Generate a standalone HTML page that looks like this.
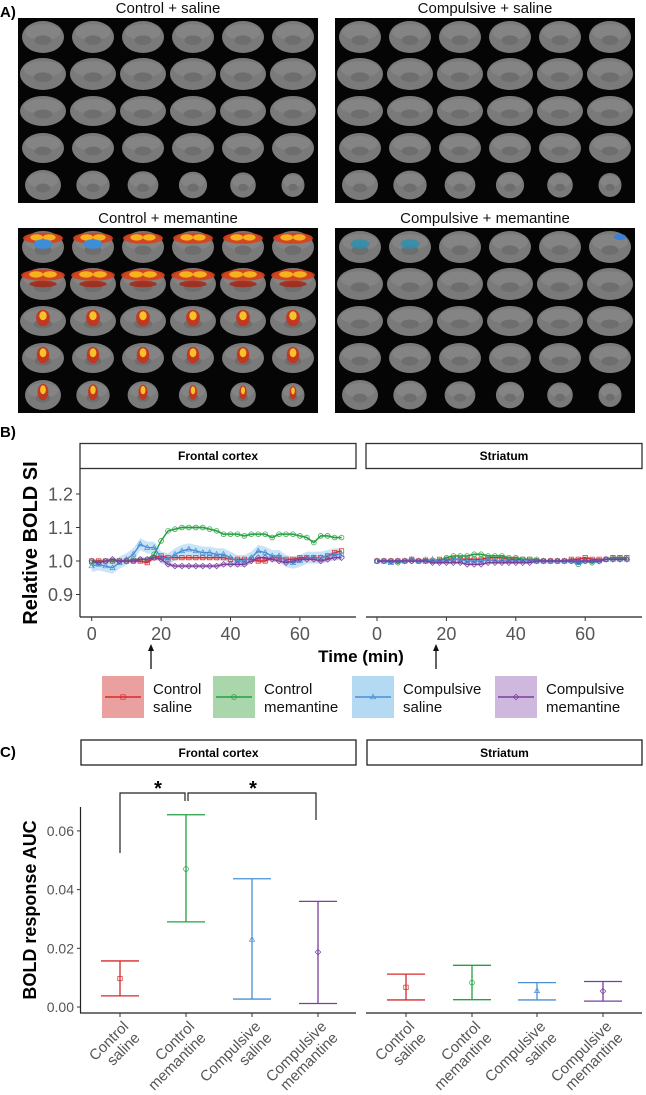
<!DOCTYPE html>
<html><head><meta charset="utf-8"><title>BOLD figure</title>
<style>
html,body{margin:0;padding:0;background:#fff;}
svg{display:block;font-family:"Liberation Sans",sans-serif;}
</style></head>
<body>
<svg id="fig" width="646" height="1095" viewBox="0 0 646 1095" xmlns="http://www.w3.org/2000/svg"></svg>
<script>
// ---------- Panel B data ----------
const times = [0,2,4,6,8,10,12,14,16,18,20,22,24,26,28,30,32,34,36,38,40,42,44,46,48,50,52,54,56,58,60,62,64,66,68,70,72];
const yTicksB = [0.9,1.0,1.1,1.2];
const yTickLabelsB = ["0.9","1.0","1.1","1.2"];
const xTicksB = [0,20,40,60];
const fcControlSaline = [1.0,1.0,1.0,1.0,1.0,1.0,1.0,1.0,0.995,1.01,1.015,1.01,1.01,1.01,1.01,1.01,1.01,1.01,1.01,1.01,1.005,1.005,1.005,1.005,1.0,1.0,1.01,1.01,1.005,1.005,1.01,1.01,1.01,1.01,1.015,1.025,1.03];
const fcControlMemantine = [0.995,0.995,1.0,1.0,1.0,1.0,1.005,1.005,1.005,1.02,1.06,1.09,1.095,1.1,1.1,1.1,1.1,1.095,1.09,1.08,1.08,1.08,1.075,1.08,1.08,1.08,1.07,1.08,1.08,1.08,1.075,1.07,1.055,1.075,1.075,1.07,1.07];
const fcCompulsiveSaline = [0.985,0.99,0.985,0.98,0.995,1.005,1.02,1.05,1.04,1.04,1.01,1.005,1.02,1.03,1.035,1.03,1.025,1.025,1.02,1.02,1.01,1.0,1.0,1.01,1.03,1.025,1.015,1.015,1.0,0.995,1.0,1.01,1.01,1.01,1.015,1.02,1.02];
const fcCompulsiveMemantine = [1.0,0.995,1.0,1.005,1.0,1.0,1.0,1.005,1.005,1.01,1.005,0.99,0.985,0.985,0.985,0.985,0.985,0.985,0.985,0.99,0.99,0.99,0.99,1.0,1.01,1.01,1.005,1.0,0.995,1.0,1.005,1.005,1.005,1.0,1.005,1.01,1.01];
const stControlSaline = [1.0,1.0,1.0,1.0,1.0,1.005,1.0,1.0,1.0,1.005,1.005,1.005,1.005,1.005,1.005,1.005,1.01,1.01,1.01,1.005,1.005,1.005,1.005,1.0,1.0,1.0,1.0,1.0,1.005,1.005,1.01,1.005,1.005,1.005,1.01,1.01,1.01];
const stControlMemantine = [1.0,1.0,1.0,0.995,1.0,1.0,1.0,1.005,1.0,1.0,1.01,1.015,1.015,1.015,1.02,1.02,1.015,1.015,1.015,1.01,1.01,1.005,1.005,1.005,1.0,1.0,1.0,1.0,1.0,0.99,1.0,0.995,1.0,1.005,1.01,1.01,1.01];
const stCompulsiveSaline = [1.0,1.0,0.995,1.0,1.0,1.005,1.0,1.0,1.005,1.0,1.0,1.005,1.005,1.0,1.0,1.0,1.005,1.0,1.0,1.0,1.0,1.0,1.0,1.0,1.0,1.0,1.0,1.0,1.0,0.995,1.0,1.0,1.0,1.005,1.005,1.005,1.005];
const stCompulsiveMemantine = [1.0,1.0,1.0,1.0,1.0,1.0,1.0,1.0,0.995,0.995,0.995,0.995,0.995,0.99,0.99,0.99,0.995,0.995,0.995,0.995,0.995,0.995,0.995,1.0,1.0,1.0,1.0,1.0,1.0,1.0,1.0,1.0,1.0,1.005,1.005,1.005,1.005];
// ---------- Panel C data ----------
const groups = ["Control saline","Control memantine","Compulsive saline","Compulsive memantine"];
const fcMean = [0.0097,0.047,0.023,0.0187];
const fcLow = [0.0038,0.029,0.0027,0.0012];
const fcHigh = [0.0157,0.0655,0.0437,0.036];
const stMean = [0.0067,0.0083,0.0055,0.0054];
const stLow = [0.0024,0.0025,0.0024,0.0020];
const stHigh = [0.0112,0.0142,0.0083,0.0087];
const yTicksC = [0.00,0.02,0.04,0.06];
const yTickLabelsC = ["0.00","0.02","0.04","0.06"];

const NS="http://www.w3.org/2000/svg";
const svg=document.getElementById('fig');
function mk(tag,attrs,parent){const e=document.createElementNS(NS,tag);for(const k in attrs)e.setAttribute(k,attrs[k]);(parent||svg).appendChild(e);return e;}
function txt(s,attrs,parent){const e=mk('text',attrs,parent);e.textContent=s;return e;}
const colors=["#d62a2a","#23a040","#4a8fd6","#7a3f9e"];
const fills=["#eba0a0","#a9d6ab","#b3d9f3","#cfb8de"];
const shapes=["square","circle","triangle","diamond"];

// ---------- Panel A ----------
let el;
el=txt("A)",{x:0,y:17,'font-size':15,'font-weight':'bold'});


const blocks=[
 {x:18,y:18,title:"Control + saline",ov:0,name:"control-saline-images"},
 {x:335,y:18,title:"Compulsive + saline",ov:0,name:"compulsive-saline-images"},
 {x:18,y:228,title:"Control + memantine",ov:1,name:"control-memantine-images"},
 {x:335,y:228,title:"Compulsive + memantine",ov:2,name:"compulsive-memantine-images"}];
const rowSize=[[21,16],[23,16],[23,15],[21,15],[18,15]];
blocks.forEach(b=>{
  const g=mk('g',{});
  
  
  const t=txt(b.title,{x:b.x+150,y:b.y-5,'font-size':15,'text-anchor':'middle',fill:'#111'},g);
  
  
  mk('rect',{x:b.x,y:b.y,width:300,height:185,fill:'#050505'},g);
  for(let r=0;r<5;r++)for(let c=0;c<6;c++){
    const cx=b.x+25+c*50, cy=b.y+19+r*37;
    let rx=rowSize[r][0], ry=rowSize[r][1];
    if(r===4){rx-=c*1.3;ry-=c*0.6;}
    mk('ellipse',{cx:cx,cy:cy,rx:rx,ry:ry,fill:'#7a7a7a'},g);
    mk('ellipse',{cx:cx,cy:cy-ry*0.3,rx:rx*0.85,ry:ry*0.5,fill:'#848484'},g);
    mk('ellipse',{cx:cx,cy:cy+ry*0.2,rx:rx*0.4,ry:ry*0.3,fill:'#6e6e6e'},g);
    if(b.ov===1){
      if(r<2){
        mk('ellipse',{cx:cx,cy:cy-ry*0.55,rx:rx*0.95,ry:ry*0.35,fill:'#d8401a',opacity:0.9},g);
        mk('ellipse',{cx:cx-rx*0.3,cy:cy-ry*0.6,rx:rx*0.3,ry:ry*0.2,fill:'#f6b21e'},g);
        mk('ellipse',{cx:cx+rx*0.3,cy:cy-ry*0.6,rx:rx*0.3,ry:ry*0.2,fill:'#f6b21e'},g);
        if(r===1)mk('ellipse',{cx:cx,cy:cy,rx:rx*0.6,ry:ry*0.2,fill:'#a82010',opacity:0.8},g);
        if(r===0&&c<2)mk('ellipse',{cx:cx,cy:cy-3,rx:rx*0.45,ry:ry*0.3,fill:'#3d8ed8'},g);
      } else {
        mk('ellipse',{cx:cx,cy:cy-ry*0.2,rx:rx*0.3,ry:ry*0.55,fill:'#c83216',opacity:0.9},g);
        mk('ellipse',{cx:cx,cy:cy-ry*0.35,rx:rx*0.16,ry:ry*0.3,fill:'#f7c12a'},g);
      }
    } else if(b.ov===2){
      if(r===0&&c<2)mk('ellipse',{cx:cx,cy:cy-3,rx:rx*0.45,ry:ry*0.3,fill:'#2e8fb0',opacity:0.85},g);
      if(r===0&&c===5)mk('ellipse',{cx:cx+10,cy:cy-10,rx:6,ry:3,fill:'#3a7fd8'},g);
    }
  }
});

// ---------- Panel B ----------
el=txt("B)",{x:0,y:437,'font-size':15,'font-weight':'bold'});


const yB=v=>561-(v-1)*335;
const panelsB=[{x0:80,x1:356,orig:91.7,title:"Frontal cortex",series:[fcControlSaline,fcControlMemantine,fcCompulsiveSaline,fcCompulsiveMemantine],band:[0.006,0.004,0.018,0.006],name:'frontal'},
               {x0:366,x1:642,orig:377,title:"Striatum",series:[stControlSaline,stControlMemantine,stCompulsiveSaline,stCompulsiveMemantine],band:[0.004,0.004,0.005,0.004],name:'striatum'}];
function marker(shape,x,y,col,parent){
  let m;
  if(shape==="square")m=mk('rect',{x:x-2.2,y:y-2.2,width:4.4,height:4.4,fill:'none',stroke:col,'stroke-width':0.7},parent);
  else if(shape==="circle")m=mk('circle',{cx:x,cy:y,r:2.4,fill:'none',stroke:col,'stroke-width':0.7},parent);
  else if(shape==="triangle")m=mk('polygon',{points:`${x},${y-2.8} ${x+2.6},${y+1.8} ${x-2.6},${y+1.8}`,fill:'none',stroke:col,'stroke-width':0.7},parent);
  else m=mk('polygon',{points:`${x},${y-2.8} ${x+2.8},${y} ${x},${y+2.8} ${x-2.8},${y}`,fill:'none',stroke:col,'stroke-width':0.7},parent);
  return m;
}
panelsB.forEach((p,pi)=>{
  const xB=t=>p.orig+t*3.47;
  const g=mk('g',{});
  
  
  const strip=mk('rect',{x:p.x0,y:443.5,width:p.x1-p.x0,height:25,fill:'#fff',stroke:'#333','stroke-width':1.3},g);
  
  
  txt(p.title,{x:(p.x0+p.x1)/2,y:460,'font-size':12,'font-weight':'bold','text-anchor':'middle'},g);
  mk('line',{x1:p.x0,y1:617,x2:p.x1,y2:617,stroke:'#222','stroke-width':1.2},g);
  xTicksB.forEach(t=>{
    mk('line',{x1:xB(t),y1:617,x2:xB(t),y2:621,stroke:'#333'},g);
    const tl=txt(String(t),{x:xB(t),y:640,'font-size':18,'text-anchor':'middle',fill:'#555'},g);
    
    
  });
  if(pi===0){
    mk('line',{x1:80,y1:469,x2:80,y2:617,stroke:'#222','stroke-width':1.2},g);
    yTicksB.forEach((v,i)=>{
      mk('line',{x1:76,y1:yB(v),x2:80,y2:yB(v),stroke:'#333'},g);
      const tl=txt(yTickLabelsB[i],{x:73,y:yB(v)+6.5,'font-size':18,'text-anchor':'end',fill:'#555'},g);
      
      
    });
  }
  p.series.forEach((s,si)=>{
    const bw=p.band[si];
    let top=s.map((v,i)=>`${xB(times[i])},${yB(v+bw)}`);
    let bot=s.map((v,i)=>`${xB(times[i])},${yB(v-bw)}`).reverse();
    const band=mk('polygon',{points:top.concat(bot).join(' '),fill:fills[si],opacity:0.7},g);
    
    
  });
  p.series.forEach((s,si)=>{
    const line=mk('polyline',{points:s.map((v,i)=>`${xB(times[i])},${yB(v)}`).join(' '),fill:'none',stroke:colors[si],'stroke-width':1.4},g);
    
    
    s.forEach((v,i)=>{marker(shapes[si],xB(times[i]),yB(v),colors[si],g);});
  });
});
el=txt("Relative BOLD SI",{x:0,y:0,'font-size':20,'font-weight':'bold','text-anchor':'middle',transform:'translate(37,543) rotate(-90)'});


el=txt("Time (min)",{x:361,y:662,'font-size':17,'font-weight':'bold','text-anchor':'middle'});


[151,436].forEach(ax=>{
  const a=mk('g',{});
  
  
  mk('line',{x1:ax,y1:669,x2:ax,y2:647,stroke:'#111','stroke-width':1.3},a);
  mk('polygon',{points:`${ax},644 ${ax-3},651 ${ax+3},651`,fill:'#111'},a);
});
// legend
const legX=[102,213,352,495];
const legLabels=[["Control","saline"],["Control","memantine"],["Compulsive","saline"],["Compulsive","memantine"]];
legX.forEach((lx,i)=>{
  const g=mk('g',{});
  
  
  mk('rect',{x:lx,y:676,width:42,height:42,fill:fills[i]},g);
  mk('line',{x1:lx+3,y1:697,x2:lx+39,y2:697,stroke:colors[i],'stroke-width':1.4},g);
  marker(shapes[i],lx+21,697,colors[i],g);
  txt(legLabels[i][0],{x:lx+51,y:694,'font-size':15,fill:'#111'},g);
  txt(legLabels[i][1],{x:lx+51,y:712,'font-size':15,fill:'#111'},g);
});

// ---------- Panel C ----------
el=txt("C)",{x:0,y:757,'font-size':15,'font-weight':'bold'});


const yC=v=>1007-v*2935;
const panelsC=[{x0:81,x1:356,xs:[120,186,252,318],title:"Frontal cortex",m:fcMean,lo:fcLow,hi:fcHigh,name:'frontal'},
               {x0:367,x1:642,xs:[406,472,537,603],title:"Striatum",m:stMean,lo:stLow,hi:stHigh,name:'striatum'}];
panelsC.forEach((p,pi)=>{
  const g=mk('g',{});
  
  
  const strip=mk('rect',{x:p.x0,y:740,width:p.x1-p.x0,height:25,fill:'#fff',stroke:'#222','stroke-width':1.3},g);
  
  
  txt(p.title,{x:(p.x0+p.x1)/2,y:757,'font-size':12,'font-weight':'bold','text-anchor':'middle'},g);
  mk('line',{x1:p.x0-1,y1:1013,x2:p.x1,y2:1013,stroke:'#222','stroke-width':1.2},g);
  if(pi===0){
    mk('line',{x1:80.5,y1:807,x2:80.5,y2:1013,stroke:'#222','stroke-width':1.2},g);
    yTicksC.forEach((v,i)=>{
      mk('line',{x1:77,y1:yC(v),x2:80,y2:yC(v),stroke:'#333'},g);
      const tl=txt(yTickLabelsC[i],{x:74,y:yC(v)+5,'font-size':14,'text-anchor':'end',fill:'#555'},g);
      
      
    });
  }
  p.xs.forEach((x,i)=>{
    const eb=mk('g',{});
    g.appendChild(eb);
    
    
    const c=colors[i];
    mk('line',{x1:x,y1:yC(p.lo[i]),x2:x,y2:yC(p.hi[i]),stroke:c,'stroke-width':1.3},eb);
    mk('line',{x1:x-19,y1:yC(p.lo[i]),x2:x+19,y2:yC(p.lo[i]),stroke:c,'stroke-width':1.3},eb);
    mk('line',{x1:x-19,y1:yC(p.hi[i]),x2:x+19,y2:yC(p.hi[i]),stroke:c,'stroke-width':1.3},eb);
    marker(shapes[i],x,yC(p.m[i]),c,eb);
    mk('line',{x1:x,y1:1013,x2:x,y2:1017,stroke:'#333'},g);
    const lab=mk('text',{transform:`translate(${x+3},1021) rotate(-45)`,'font-size':15,fill:'#555','text-anchor':'end'},g);
    
    
    const t1=mk('tspan',{x:0,y:9},lab);t1.textContent=legLabels[i][0];
    const t2=mk('tspan',{x:0,y:25},lab);t2.textContent=legLabels[i][1];
  });
});
// significance brackets
const sig=mk('g',{fill:'none',stroke:'#222','stroke-width':1.2});


mk('polyline',{points:"120,853 120,793 185,793 185,801"},sig);
mk('polyline',{points:"188,801 188,793 316,793 316,820"},sig);
el=txt("*",{x:158,y:795,'font-size':20,'font-weight':'bold','text-anchor':'middle'});


el=txt("*",{x:253,y:795,'font-size':20,'font-weight':'bold','text-anchor':'middle'});


el=txt("BOLD response AUC",{x:0,y:0,'font-size':18,'font-weight':'bold','text-anchor':'middle',transform:'translate(36,910) rotate(-90)'});


</script>
</body></html>
